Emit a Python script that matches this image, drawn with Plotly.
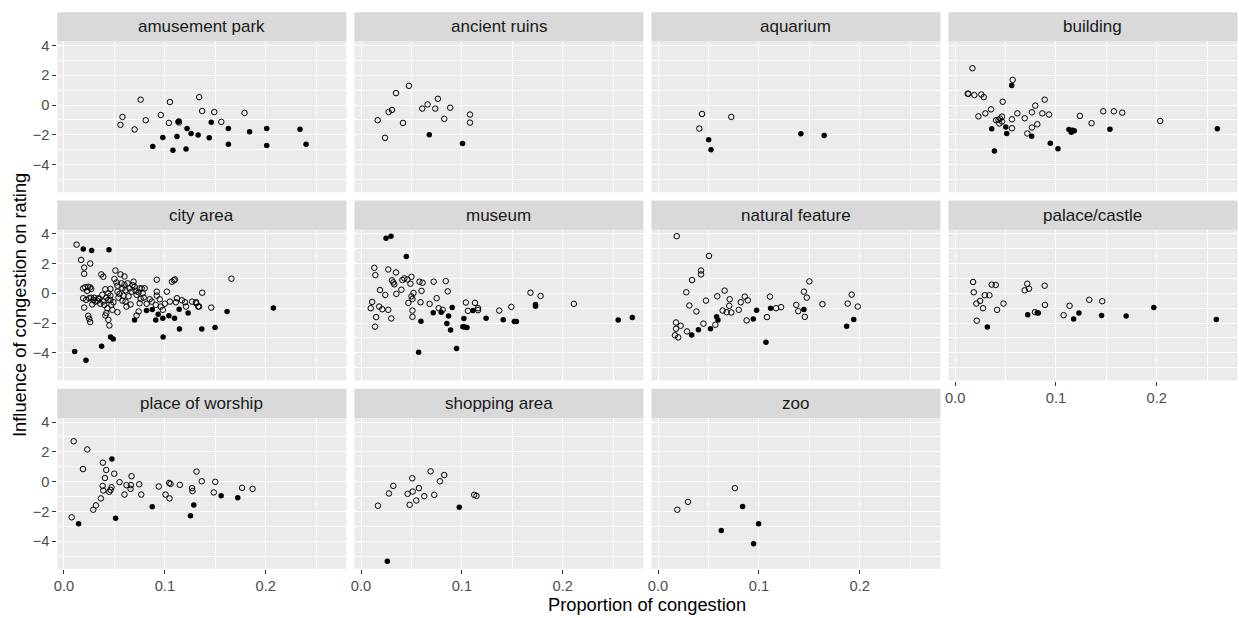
import plotly.graph_objects as go

# ---------------- data ----------------
categories = ["amusement park", "ancient ruins", "aquarium", "building",
              "city area", "museum", "natural feature", "palace/castle",
              "place of worship", "shopping area", "zoo"]

amusement_open_x = [0.056, 0.058, 0.076, 0.070, 0.081, 0.096, 0.105, 0.104, 0.114, 0.134, 0.137, 0.149, 0.156, 0.179]
amusement_open_y = [-1.33, -0.80, 0.36, -1.64, -1.02, -0.67, 0.20, -1.20, -1.17, 0.53, -0.40, -0.47, -1.13, -0.53]
amusement_fill_x = [0.088, 0.098, 0.108, 0.112, 0.113, 0.114, 0.121, 0.122, 0.126, 0.133, 0.144, 0.146, 0.163, 0.163, 0.184, 0.201, 0.201, 0.234, 0.240]
amusement_fill_y = [-2.78, -2.18, -3.04, -2.11, -1.13, -1.07, -2.95, -1.58, -1.91, -2.02, -2.20, -1.15, -1.58, -2.64, -1.80, -1.58, -2.71, -1.62, -2.64]

ruins_open_x = [0.0165, 0.0238, 0.0274, 0.0307, 0.0347, 0.0416, 0.0475, 0.0607, 0.066, 0.0736, 0.0762, 0.0825, 0.0884, 0.108, 0.108]
ruins_open_y = [-1.02, -2.2, -0.47, -0.33, 0.8, -1.2, 1.29, -0.24, 0.04, -0.24, 0.42, -0.93, -0.18, -0.64, -1.18]
ruins_fill_x = [0.0677, 0.1007]
ruins_fill_y = [-2.0, -2.58]

aquarium_open_x = [0.0436, 0.0726, 0.0409]
aquarium_open_y = [-0.6, -0.8, -1.58]
aquarium_fill_x = [0.0502, 0.0525, 0.1416, 0.1647]
aquarium_fill_y = [-2.33, -3.0, -1.93, -2.04]

building_open_x = [0.0172, 0.0125, 0.0132, 0.0191, 0.026, 0.0284, 0.0571, 0.0472, 0.0356, 0.030, 0.0231, 0.0406, 0.043, 0.0446, 0.0465,
                   0.0465, 0.0439, 0.0564, 0.0564, 0.0617, 0.069, 0.0762, 0.0795, 0.0888, 0.0865, 0.0931, 0.0815, 0.0762, 0.0716,
                   0.1238, 0.1353, 0.1469, 0.1574, 0.1657, 0.2033]
building_open_y = [2.47, 0.76, 0.76, 0.67, 0.71, 0.53, 1.69, 0.22, -0.29, -0.56, -0.76, -1.02, -1.0, -0.91, -0.78,
                   -1.11, -1.24, -0.96, -1.56, -0.56, -0.89, -0.49, -0.04, 0.36, -0.56, -0.64, -1.29, -1.51, -1.91,
                   -0.73, -1.22, -0.42, -0.42, -0.51, -1.07]
building_fill_x = [0.0561, 0.0363, 0.039, 0.0502, 0.0512, 0.0759, 0.0944, 0.102, 0.1129, 0.1152, 0.1165, 0.1182, 0.1535, 0.26]
building_fill_y = [1.31, -1.6, -3.09, -1.47, -1.91, -2.09, -2.56, -2.93, -1.64, -1.82, -1.69, -1.73, -1.62, -1.6]

city_open_x = [0.0125, 0.017, 0.020, 0.020, 0.026,
               0.019, 0.021, 0.024, 0.026, 0.027, 0.019, 0.022, 0.025, 0.027, 0.029, 0.020, 0.023, 0.024, 0.025, 0.026,
               0.031, 0.034, 0.035, 0.037, 0.039, 0.040, 0.041, 0.042, 0.043, 0.042, 0.041, 0.044, 0.045, 0.046, 0.046, 0.046, 0.047, 0.048,
               0.050, 0.051, 0.052, 0.053, 0.053, 0.054, 0.053, 0.056, 0.057, 0.058, 0.059, 0.060, 0.060, 0.061, 0.061, 0.062, 0.063, 0.065,
               0.067, 0.069, 0.070, 0.071, 0.074, 0.075, 0.077, 0.080, 0.076, 0.075, 0.079, 0.074, 0.072,
               0.087, 0.092, 0.092, 0.092, 0.091, 0.096, 0.098, 0.102, 0.105, 0.107, 0.109, 0.110, 0.111, 0.112, 0.117, 0.120, 0.121,
               0.127, 0.131, 0.133, 0.137, 0.131, 0.134, 0.146, 0.166,
               0.033, 0.036, 0.038, 0.044, 0.049, 0.055, 0.058, 0.064, 0.066, 0.068, 0.072, 0.078, 0.082, 0.085, 0.095, 0.100,
               0.044, 0.039, 0.030, 0.028]
city_open_y = [3.27, 2.24, 1.73, 1.31, 2.0,
               0.33, 0.40, 0.44, 0.40, 0.29, -0.33, -0.44, -0.33, -0.29, -0.44, -0.96, 0.16, -1.51, -1.71, -1.93,
               -0.56, -0.33, -0.38, 1.27, 1.11, -0.78, 0.27, -0.29, -1.0, -1.33, -1.49, -1.78, -2.16, 0.29, -0.16, -0.44, -0.78, -1.11,
               0.96, 1.53, 0.73, 0.51, 0.11, -0.29, -1.27, 1.27, 0.67, 0.33, -0.16, 1.13, 0.56, 0.20, -0.56, -0.89, 0.67, 0.33,
               0.11, 0.78, 0.44, 0.16, 0.07, 0.33, 0.33, 0.33, -0.38, -0.67, -0.29, -1.22, -1.49,
               -0.56, 0.11, -0.16, 0.91, -0.78, -0.89, -1.11, 0.11, -0.56, 0.78, 0.87, 0.93, -0.60, -0.33, -0.47, -0.60, -0.89,
               -0.56, -0.60, -0.89, 0.04, -0.67, -0.89, -0.96, 0.98,
               -0.5, -0.7, -0.1, 0.0, -0.6, -0.05, -0.5, -0.2, -0.75, 0.55, -0.1, 0.0, -0.7, -0.4, -0.4, -0.7,
               -0.45, -0.55, -0.3, -0.75]
city_fill_x = [0.0106, 0.0218, 0.0191, 0.0274, 0.0446, 0.0373, 0.0462, 0.0488, 0.070, 0.0818, 0.0875, 0.091, 0.0934, 0.098,
               0.0983, 0.104, 0.1096, 0.1142, 0.1145, 0.1231, 0.1366, 0.1498, 0.1617, 0.2076]
city_fill_y = [-3.91, -4.49, 2.98, 2.87, 2.93, -3.56, -2.93, -3.07, -1.8, -1.16, -1.09, -1.8, -1.4, -1.67,
               -2.93, -1.51, -1.67, -1.07, -2.4, -1.33, -2.4, -2.29, -1.22, -0.98]

museum_open_x = [0.0132, 0.0142, 0.027, 0.0347, 0.0307, 0.032, 0.033, 0.041, 0.043, 0.046, 0.050, 0.049, 0.058, 0.061, 0.072, 0.084,
                 0.0188, 0.024, 0.035, 0.040, 0.052, 0.050, 0.051, 0.060, 0.086, 0.075,
                 0.011, 0.0096, 0.018, 0.021, 0.027, 0.015, 0.0139, 0.030, 0.047, 0.059, 0.068, 0.051, 0.051, 0.077, 0.081,
                 0.104, 0.106, 0.113, 0.116, 0.116, 0.137, 0.149, 0.168, 0.178, 0.211]
museum_open_y = [1.71, 1.22, 1.6, 1.4, 0.87, 0.73, 0.6, 0.89, 1.0, 0.93, 1.11, 0.64, 0.78, 0.71, 0.78, 0.82,
                 0.22, -0.11, -0.04, 0.24, 0.02, -0.2, -0.38, 0.16, 0.13, -0.33,
                 -0.58, -1.0, -0.89, -1.07, -1.11, -1.6, -2.24, -1.69, -0.64, -0.6, -0.71, -1.16, -1.58, -1.0, -1.11,
                 -0.62, -1.18, -0.64, -1.0, -1.13, -1.16, -0.91, 0.04, -0.18, -0.71]
museum_fill_x = [0.0248, 0.0297, 0.0449, 0.0571, 0.0594, 0.0716, 0.0795, 0.0851, 0.0868, 0.0888, 0.0904, 0.0947, 0.102,
                 0.101, 0.103, 0.105, 0.111, 0.124, 0.141, 0.152, 0.154, 0.173, 0.173, 0.255, 0.269]
museum_fill_y = [3.69, 3.84, 2.47, -3.96, -1.87, -1.31, -1.27, -2.02, -1.53, -2.47, -0.96, -3.71, -1.69,
                 -2.24, -2.27, -2.29, -1.16, -1.67, -1.78, -1.89, -1.89, -0.76, -0.87, -1.8, -1.62]

natural_open_x = [0.0185, 0.0505, 0.0426, 0.0426, 0.0337, 0.028, 0.031, 0.038, 0.0475, 0.0587, 0.066, 0.071, 0.0706, 0.064,
                  0.068, 0.0726, 0.080, 0.082, 0.086, 0.089, 0.0878, 0.108, 0.111, 0.117, 0.122, 0.137, 0.139, 0.1446,
                  0.1475, 0.150, 0.1455, 0.163, 0.188, 0.192, 0.198, 0.0178, 0.0178, 0.0224, 0.0168, 0.020, 0.0287, 0.045, 0.0568]
natural_open_y = [3.84, 2.51, 1.53, 1.27, 0.89, 0.07, -0.82, -1.22, -0.49, -0.2, 0.18, -0.4, -0.84, -1.16,
                  -1.27, -1.29, -1.11, -0.6, -0.22, -0.47, -1.82, -1.6, -0.22, -1.0, -0.93, -0.78, -1.2, 0.11,
                  -0.29, 0.8, -1.58, -0.73, -0.69, -0.09, -0.89, -1.96, -2.38, -2.18, -2.82, -2.96, -2.56, -2.04, -2.11]
natural_fill_x = [0.0333, 0.040, 0.052, 0.058, 0.0594, 0.0944, 0.0977, 0.107, 0.1116, 0.1446, 0.187, 0.194]
natural_fill_y = [-2.8, -2.44, -2.38, -1.58, -1.8, -1.73, -1.13, -3.29, -1.0, -1.09, -2.22, -1.76]

palace_open_x = [0.0178, 0.0185, 0.0211, 0.0248, 0.0277, 0.0215, 0.0294, 0.034, 0.0363, 0.0403, 0.0416, 0.048, 0.069,
                 0.0716, 0.0733, 0.0888, 0.0891, 0.0792, 0.1076, 0.1135, 0.133, 0.1459]
palace_open_y = [0.76, 0.07, -0.69, -0.51, -1.0, -1.84, -0.13, -0.13, 0.58, 0.56, -1.11, -0.69, 0.2,
                 0.64, 0.31, 0.51, -0.78, -1.27, -1.47, -0.84, -0.44, -0.53]
palace_fill_x = [0.032, 0.072, 0.0815, 0.0825, 0.1175, 0.1228, 0.1452, 0.1696, 0.197, 0.259]
palace_fill_y = [-2.27, -1.44, -1.31, -1.33, -1.73, -1.33, -1.49, -1.53, -0.96, -1.76]

worship_open_x = [0.0096, 0.0231, 0.0188, 0.0076, 0.0386, 0.0419, 0.0406, 0.0383, 0.039, 0.0366, 0.0317, 0.029, 0.0449,
                  0.0462, 0.0472, 0.0498, 0.0551, 0.060, 0.062, 0.0663, 0.066, 0.067, 0.0746, 0.0766, 0.094, 0.1007,
                  0.1043, 0.1056, 0.1046, 0.1149, 0.127, 0.1274, 0.1314, 0.1366, 0.1485, 0.150, 0.1766, 0.187]
worship_open_y = [2.71, 2.16, 0.84, -2.4, 1.27, 0.78, 0.24, -0.29, -0.6, -1.13, -1.6, -1.89, -0.69,
                  -0.56, -0.38, 0.53, -0.04, -0.87, -0.24, -0.24, -0.49, 0.36, -0.18, -0.87, -0.33, -0.87,
                  -0.09, -0.16, -1.13, -0.22, -0.44, -0.64, 0.67, 0.02, -0.73, -0.02, -0.42, -0.49]
worship_fill_x = [0.0145, 0.0475, 0.0512, 0.0875, 0.1254, 0.1287, 0.1558, 0.1723]
worship_fill_y = [-2.84, 1.51, -2.47, -1.69, -2.29, -1.58, -0.96, -1.09]

shopping_open_x = [0.0168, 0.0277, 0.032, 0.0462, 0.0482, 0.0508, 0.0512, 0.0548, 0.0574, 0.0627, 0.069, 0.0726, 0.0782,
                   0.0825, 0.1122, 0.1145]
shopping_open_y = [-1.62, -0.8, -0.29, -0.82, -1.56, 0.22, -0.67, -1.27, -0.44, -0.98, 0.69, -0.89, 0.02,
                   0.44, -0.89, -0.96]
shopping_fill_x = [0.0261, 0.0974]
shopping_fill_y = [-5.36, -1.73]

zoo_open_x = [0.0191, 0.0297, 0.0762]
zoo_open_y = [-1.89, -1.36, -0.44]
zoo_fill_x = [0.0627, 0.0838, 0.0997, 0.0947]
zoo_fill_y = [-3.29, -1.67, -2.84, -4.18]

panel_data = [
    (amusement_open_x, amusement_open_y, amusement_fill_x, amusement_fill_y),
    (ruins_open_x, ruins_open_y, ruins_fill_x, ruins_fill_y),
    (aquarium_open_x, aquarium_open_y, aquarium_fill_x, aquarium_fill_y),
    (building_open_x, building_open_y, building_fill_x, building_fill_y),
    (city_open_x, city_open_y, city_fill_x, city_fill_y),
    (museum_open_x, museum_open_y, museum_fill_x, museum_fill_y),
    (natural_open_x, natural_open_y, natural_fill_x, natural_fill_y),
    (palace_open_x, palace_open_y, palace_fill_x, palace_fill_y),
    (worship_open_x, worship_open_y, worship_fill_x, worship_fill_y),
    (shopping_open_x, shopping_open_y, shopping_fill_x, shopping_fill_y),
    (zoo_open_x, zoo_open_y, zoo_fill_x, zoo_fill_y),
]

x_ticks = [0.0, 0.1, 0.2]
x_tick_labels = ["0.0", "0.1", "0.2"]
y_ticks = [-4, -2, 0, 2, 4]
y_tick_labels = ["\u22124", "\u22122", "0", "2", "4"]
x_title = "Proportion of congestion"
y_title = "Influence of congestion on rating"

# ---------------- layout geometry ----------------
W, H = 1239, 618
X_RANGE = [-0.0066, 0.2800]
Y_RANGE = [-5.86, 4.27]
PANEL_LEFT0, PANEL_W, PANEL_PITCH_X = 53.5, 290.0, 298.0
PANEL_TOP0, PANEL_H, PANEL_PITCH_Y = 37.7, 151.8, 189.5
STRIP_H = 29.4

FONT = "Liberation Sans, Arial, Helvetica, sans-serif"
TICK_FONT = dict(family=FONT, size=14.7, color="#4D4D4D")

fig = go.Figure()
layout = dict(
    width=W, height=H, margin=dict(l=0, r=0, t=0, b=0),
    paper_bgcolor="white", plot_bgcolor="#EBEBEB", showlegend=False,
    shapes=[], annotations=[],
)

for i, cat in enumerate(categories):
    r, c = divmod(i, 4)
    n = i + 1
    sx = "" if n == 1 else str(n)
    left = PANEL_LEFT0 + c * PANEL_PITCH_X
    right = left + PANEL_W
    top = PANEL_TOP0 + r * PANEL_PITCH_Y
    bottom = top + PANEL_H

    ox, oy, fx, fy = panel_data[i]
    fig.add_trace(go.Scatter(
        x=ox, y=oy, mode="markers", xaxis="x" + sx, yaxis="y" + sx,
        marker=dict(symbol="circle-open", size=5.5, color="black", line=dict(width=1, color="black")),
        hoverinfo="skip", showlegend=False))
    fig.add_trace(go.Scatter(
        x=fx, y=fy, mode="markers", xaxis="x" + sx, yaxis="y" + sx,
        marker=dict(symbol="circle", size=5.5, color="black", line=dict(width=0)),
        hoverinfo="skip", showlegend=False))

    show_x = (r == 2) or (r == 1 and c == 3)
    show_y = (c == 0)
    layout["xaxis" + sx] = dict(
        domain=[left / W, right / W], anchor="y" + sx, range=X_RANGE, fixedrange=True,
        tickvals=x_ticks, ticktext=x_tick_labels, showticklabels=show_x,
        ticks="outside" if show_x else "", ticklen=4, tickwidth=1, tickcolor="#333333",
        tickfont=TICK_FONT, showgrid=True, gridcolor="white", gridwidth=1.4,
        minor=dict(tickvals=[0.05, 0.15, 0.25], showgrid=True, gridcolor="white", gridwidth=0.7, ticks=""),
        zeroline=False, showline=False)
    layout["yaxis" + sx] = dict(
        domain=[1 - bottom / H, 1 - top / H], anchor="x" + sx, range=Y_RANGE, fixedrange=True,
        tickvals=y_ticks, ticktext=y_tick_labels, showticklabels=show_y,
        ticks="outside" if show_y else "", ticklen=4, tickwidth=1, tickcolor="#333333",
        tickfont=TICK_FONT, showgrid=True, gridcolor="white", gridwidth=1.4,
        minor=dict(tickvals=[-5, -3, -1, 1, 3], showgrid=True, gridcolor="white", gridwidth=0.7, ticks=""),
        zeroline=False, showline=False)

    # facet strip
    layout["shapes"].append(dict(
        type="rect", xref="paper", yref="paper", layer="below",
        x0=left / W, x1=right / W, y0=1 - top / H, y1=1 - (top - STRIP_H) / H,
        fillcolor="#D9D9D9", line=dict(width=0)))
    layout["annotations"].append(dict(
        text=cat, xref="paper", yref="paper", showarrow=False,
        x=(left + right) / 2 / W, y=1 - (top - STRIP_H / 2) / H, xanchor="center", yanchor="middle",
        font=dict(family=FONT, size=17, color="#1A1A1A")))

# axis titles
x_center = (PANEL_LEFT0 + 3 * PANEL_PITCH_X + PANEL_W + PANEL_LEFT0) / 2
layout["annotations"].append(dict(
    text=x_title, xref="paper", yref="paper", showarrow=False,
    x=x_center / W, y=1 - 604 / H, xanchor="center", yanchor="middle",
    font=dict(family=FONT, size=18.3, color="black")))
layout["annotations"].append(dict(
    text=y_title, xref="paper", yref="paper", showarrow=False, textangle=-90,
    x=15 / W, y=1 - 303 / H, xanchor="center", yanchor="middle",
    font=dict(family=FONT, size=18.3, color="black")))

fig.update_layout(**layout)
fig.write_html("out.html")
